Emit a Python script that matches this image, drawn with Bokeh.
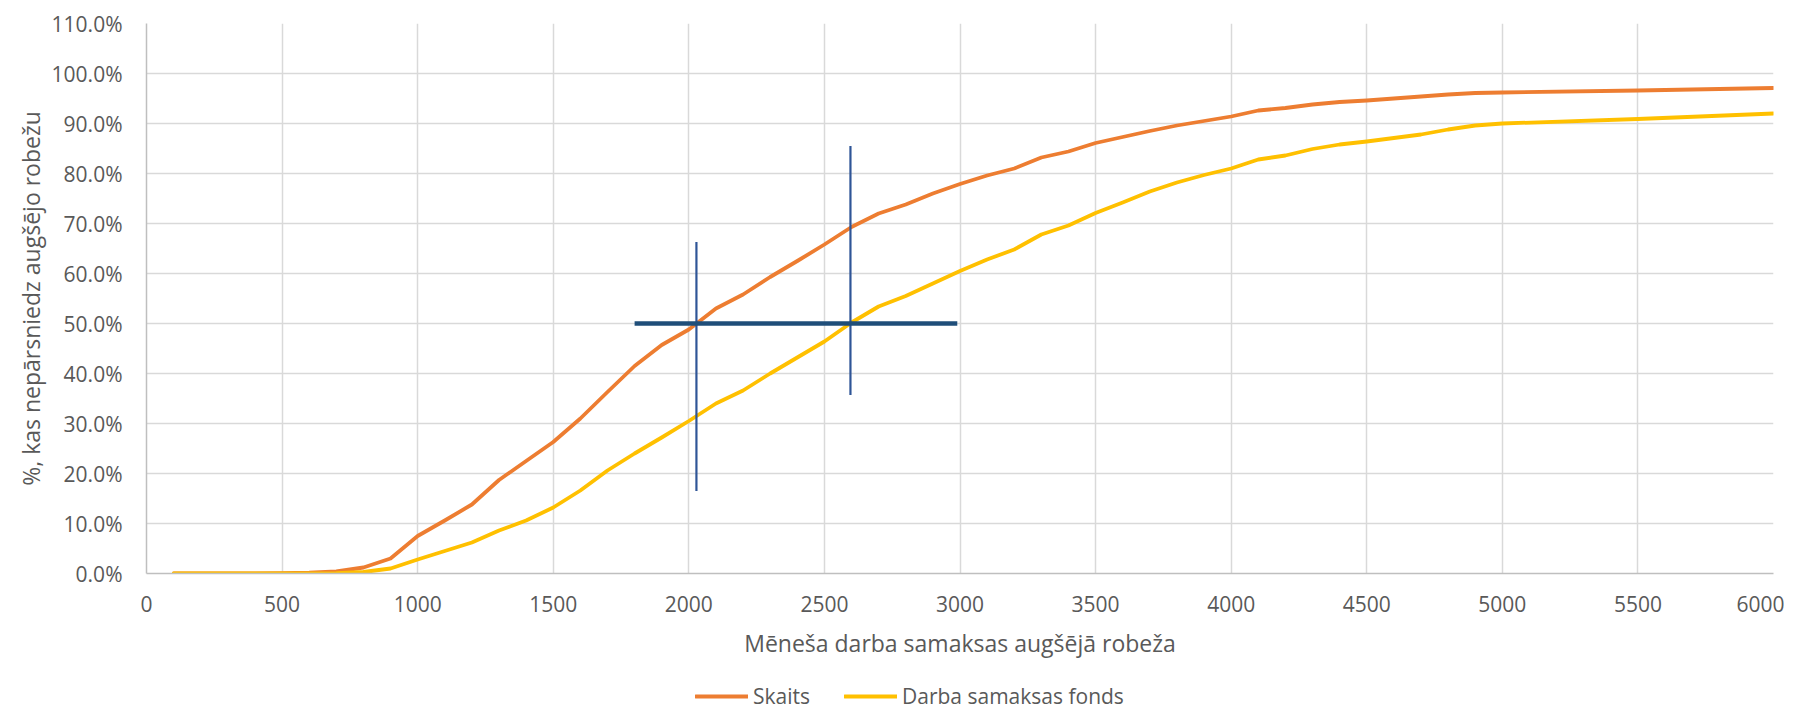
from bokeh.plotting import figure
from bokeh.layouts import column
from bokeh.models import NumeralTickFormatter, FixedTicker, Range1d, ColumnDataSource, Legend, LegendItem
from bokeh.embed import file_html
from bokeh.resources import INLINE

# ---- data ----
x_vals = [100, 200, 300, 400, 500, 600, 700, 800, 900, 1000,
          1100, 1200, 1300, 1400, 1500, 1600, 1700, 1800, 1900, 2000,
          2100, 2200, 2300, 2400, 2500, 2600, 2700, 2800, 2900, 3000,
          3100, 3200, 3300, 3400, 3500, 3600, 3700, 3800, 3900, 4000,
          4100, 4200, 4300, 4400, 4500, 4600, 4700, 4800, 4900, 5000,
          5500, 6000]
skaits_pct = [0.0, 0.0, 0.0, 0.0, 0.05, 0.15, 0.4, 1.2, 3.0, 7.5,
              10.6, 13.8, 18.7, 22.5, 26.3, 31.0, 36.3, 41.5, 45.7, 48.8,
              53.0, 55.8, 59.3, 62.5, 65.8, 69.3, 72.0, 73.8, 76.0, 77.9,
              79.6, 81.0, 83.2, 84.4, 86.1, 87.3, 88.5, 89.6, 90.5, 91.4,
              92.6, 93.1, 93.8, 94.3, 94.6, 95.0, 95.4, 95.8, 96.1, 96.2,
              96.6, 97.1]
fonds_pct = [0.0, 0.0, 0.0, 0.0, 0.0, 0.0, 0.05, 0.3, 1.0, 2.8,
             4.5, 6.2, 8.6, 10.6, 13.2, 16.6, 20.6, 24.0, 27.2, 30.5,
             34.0, 36.6, 40.0, 43.2, 46.4, 50.2, 53.4, 55.5, 58.0, 60.5,
             62.8, 64.8, 67.8, 69.6, 72.1, 74.2, 76.4, 78.2, 79.7, 81.0,
             82.8, 83.6, 84.9, 85.8, 86.4, 87.1, 87.8, 88.8, 89.6, 90.0,
             90.9, 92.0]

# reference markers (median points)
h_line_x = [1800, 2990]
h_line_y_pct = [50, 50]
v_line_x = [2028, 2596]
v_line_y0_pct = [16.5, 35.7]
v_line_y1_pct = [66.3, 85.5]

x_ticks = list(range(0, 6001, 500))
y_ticks = [i / 10 for i in range(0, 12)]

series_names = ["Skaits", "Darba samaksas fonds"]
series_colors = ["#ED7D31", "#FFC000"]
x_title = "Mēneša darba samaksas augšējā robeža"
y_title = "%, kas nepārsniedz augšējo robežu"

FONT = "Open Sans"
TXT = "#595959"
W = 1784
MAIN_H = 664
LEG_H = 48

p = figure(width=W, height=MAIN_H, output_backend="svg", toolbar_location=None,
           x_range=Range1d(0, 6000), y_range=Range1d(0, 1.1),
           min_border_left=146, min_border_right=11, min_border_top=23,
           min_border_bottom=MAIN_H - 573)
p.outline_line_color = None

src = ColumnDataSource(dict(x=x_vals,
                            s=[v / 100 for v in skaits_pct],
                            f=[v / 100 for v in fonds_pct]))

p.line("x", "s", source=src, line_color=series_colors[0], line_width=3.8,
       line_cap="round", line_join="round")
p.line("x", "f", source=src, line_color=series_colors[1], line_width=3.8,
       line_cap="round", line_join="round")

p.segment(x0=v_line_x, x1=v_line_x,
          y0=[v / 100 for v in v_line_y0_pct], y1=[v / 100 for v in v_line_y1_pct],
          line_color="#2F5597", line_width=2.2)
p.line(x=h_line_x, y=[v / 100 for v in h_line_y_pct], line_color="#1F4E79", line_width=4.5)

# axes
for ax in (p.xaxis[0], p.yaxis[0]):
    ax.axis_line_color = "#BFBFBF"
    ax.axis_line_width = 1.5
    ax.major_tick_line_color = None
    ax.minor_tick_line_color = None
    ax.major_tick_out = 0
    ax.major_tick_in = 0
    ax.major_label_text_font = FONT
    ax.major_label_text_font_size = "21px"
    ax.major_label_text_color = TXT
    ax.axis_label_text_font = FONT
    ax.axis_label_text_font_size = "23px"
    ax.axis_label_text_font_style = "normal"
    ax.axis_label_text_color = TXT

p.xaxis[0].ticker = FixedTicker(ticks=x_ticks)
p.yaxis[0].ticker = FixedTicker(ticks=y_ticks)
p.yaxis[0].formatter = NumeralTickFormatter(format="0.0%")
p.xaxis[0].axis_label = x_title
p.yaxis[0].axis_label = y_title
p.xaxis[0].major_label_standoff = 22
p.xaxis[0].axis_label_standoff = 12
p.yaxis[0].major_label_standoff = 24
p.yaxis[0].axis_label_standoff = 2

p.xgrid[0].grid_line_color = "#D9D9D9"
p.ygrid[0].grid_line_color = "#D9D9D9"
p.xgrid[0].grid_line_width = 1.5
p.ygrid[0].grid_line_width = 1.5

# legend strip below the chart (legend swatches use off-screen dummy lines)
q = figure(width=W, height=LEG_H, output_backend="svg", toolbar_location=None,
           x_range=Range1d(0, 1), y_range=Range1d(0, 1),
           x_axis_type=None, y_axis_type=None,
           min_border_left=0, min_border_right=0, min_border_top=0, min_border_bottom=0)
q.outline_line_color = None
q.xgrid.visible = False
q.ygrid.visible = False
items = []
for name, col in zip(series_names, series_colors):
    r = q.line(x=[-10, -9], y=[-10, -10], line_color=col, line_width=3.8, line_cap="round")
    items.append(LegendItem(label=name, renderers=[r]))
lg = Legend(items=items, orientation="horizontal", location=(549, 2))
lg.border_line_color = None
lg.background_fill_alpha = 0
lg.padding = 0
lg.margin = 0
lg.spacing = 34
lg.glyph_width = 53
lg.glyph_height = 22
lg.label_height = 22
lg.label_standoff = 5
lg.label_text_font = FONT
lg.label_text_font_size = "21px"
lg.label_text_color = TXT
q.add_layout(lg, "center")

layout = column(p, q, spacing=0)
open("out.html", "w").write(file_html(layout, INLINE))
